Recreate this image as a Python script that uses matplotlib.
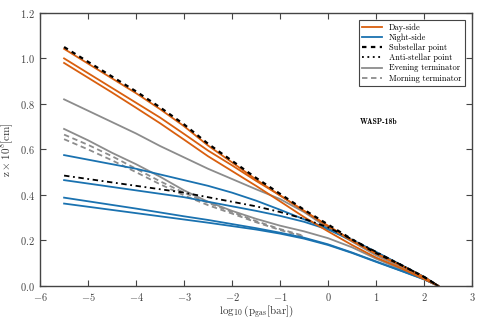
import matplotlib
matplotlib.use("Agg")
import matplotlib.pyplot as plt

plt.rcParams['mathtext.fontset'] = 'cm'
plt.rcParams['font.family'] = 'serif'
plt.rcParams['font.serif'] = ['cmr10', 'DejaVu Serif']
plt.rcParams['axes.formatter.use_mathtext'] = True
plt.rcParams['axes.unicode_minus'] = True

# log10 pressure grid for the full profiles
logp = [-5.5, -5.0, -4.5, -4.0, -3.5, -3.0, -2.5, -2.0, -1.5, -1.0, -0.5, 0.0, 0.5, 1.0, 1.5, 2.0, 2.3]
# morning terminator profiles stop early
logp_morn = [-5.5, -5.0, -4.5, -4.0, -3.5, -3.0, -2.5, -2.0, -1.5, -1.0, -0.5]

# day-side (orange)
day1 = [1.042, 0.977, 0.912, 0.847, 0.777, 0.702, 0.617, 0.543, 0.468, 0.398, 0.330, 0.265, 0.200, 0.143, 0.093, 0.039, 0.0]
day2 = [1.000, 0.935, 0.870, 0.805, 0.740, 0.668, 0.595, 0.530, 0.462, 0.398, 0.330, 0.262, 0.198, 0.142, 0.092, 0.038, 0.0]
day3 = [0.980, 0.915, 0.850, 0.783, 0.715, 0.643, 0.570, 0.505, 0.440, 0.372, 0.303, 0.240, 0.180, 0.125, 0.080, 0.030, 0.0]
# night-side (blue)
night1 = [0.575, 0.555, 0.535, 0.515, 0.490, 0.465, 0.440, 0.410, 0.375, 0.335, 0.293, 0.252, 0.203, 0.150, 0.095, 0.040, 0.0]
night2 = [0.465, 0.450, 0.435, 0.420, 0.405, 0.390, 0.370, 0.350, 0.330, 0.308, 0.282, 0.248, 0.200, 0.148, 0.094, 0.040, 0.0]
night3 = [0.388, 0.372, 0.356, 0.340, 0.323, 0.306, 0.290, 0.272, 0.254, 0.234, 0.212, 0.183, 0.147, 0.108, 0.069, 0.030, 0.0]
night4 = [0.362, 0.348, 0.334, 0.320, 0.306, 0.292, 0.278, 0.263, 0.248, 0.230, 0.208, 0.180, 0.145, 0.106, 0.068, 0.029, 0.0]
# substellar / anti-stellar points (black)
subst = [1.050, 0.985, 0.920, 0.855, 0.785, 0.710, 0.625, 0.550, 0.475, 0.405, 0.335, 0.270, 0.205, 0.145, 0.095, 0.040, 0.0]
anti = [0.485, 0.470, 0.455, 0.440, 0.425, 0.410, 0.390, 0.370, 0.350, 0.325, 0.295, 0.258, 0.205, 0.150, 0.095, 0.040, 0.0]
# evening terminator (grey solid)
even1 = [0.820, 0.770, 0.720, 0.670, 0.615, 0.565, 0.515, 0.470, 0.425, 0.382, 0.325, 0.255, 0.195, 0.135, 0.085, 0.035, 0.0]
even2 = [0.690, 0.640, 0.585, 0.535, 0.480, 0.420, 0.370, 0.330, 0.295, 0.265, 0.240, 0.210, 0.170, 0.120, 0.075, 0.030, 0.0]
# morning terminator (grey dashed)
morn1 = [0.665, 0.620, 0.570, 0.515, 0.460, 0.410, 0.365, 0.325, 0.285, 0.250, 0.220]
morn2 = [0.645, 0.600, 0.552, 0.500, 0.447, 0.398, 0.355, 0.318, 0.280, 0.246, 0.216]

orange = '#d95f0e'
blue = '#1a72b0'
grey = '#8c8c8c'

fig = plt.figure(figsize=(4.83, 3.22), dpi=100)
ax = fig.add_axes([0.083, 0.112, 0.894, 0.848])

lw = 1.3
for z in [even1, even2]:
    ax.plot(logp, z, color=grey, lw=lw)
for z in [morn1, morn2]:
    ax.plot(logp_morn, z, color=grey, lw=lw, ls=(0, (3, 2)))
for z in [night1, night2, night3, night4]:
    ax.plot(logp, z, color=blue, lw=lw)
for z in [day1, day2, day3]:
    ax.plot(logp, z, color=orange, lw=lw)
ax.plot(logp, subst, color='k', lw=lw + 0.3, ls=(0, (2, 2)))
ax.plot(logp, anti, color='k', lw=lw, ls=(0, (3, 2, 1, 2)))

# legend proxies
ax.plot([], [], color=orange, lw=lw, label='Day-side')
ax.plot([], [], color=blue, lw=lw, label='Night-side')
ax.plot([], [], color='k', lw=lw + 0.3, ls=(0, (2, 2)), label='Substellar point')
ax.plot([], [], color='k', lw=lw, ls=(0, (1, 2)), label='Anti-stellar point')
ax.plot([], [], color=grey, lw=lw, label='Evening terminator')
ax.plot([], [], color=grey, lw=lw, ls=(0, (3, 2)), label='Morning terminator')
handles, labels = ax.get_legend_handles_labels()
leg = ax.legend(handles[-6:], labels[-6:], loc='upper right', fontsize=6, frameon=True,
                fancybox=False, edgecolor='#444444', framealpha=1, borderpad=0.4,
                labelspacing=0.22, handlelength=2.4, bbox_to_anchor=(0.993, 0.99))
leg.get_frame().set_linewidth(0.8)

ax.text(0.785, 0.6, 'WASP-18b', transform=ax.transAxes, fontsize=5.5,
        family='cmb10', ha='center', va='center')

ax.set_xlim(-6, 3)
ax.set_ylim(0, 1.2)
ax.set_xticks([-6, -5, -4, -3, -2, -1, 0, 1, 2, 3])
ax.set_yticks([0.0, 0.2, 0.4, 0.6, 0.8, 1.0, 1.2])
ax.set_yticklabels(['$0.0$', '$0.2$', '$0.4$', '$0.6$', '$0.8$', '$1.0$', '$1.2$'])
ax.tick_params(direction='in', top=True, right=True, labelsize=7.5, length=4,
               width=0.8, colors='#444444', labelcolor='#444444')
for s in ax.spines.values():
    s.set_linewidth(1.0)
    s.set_color('#444444')
ax.set_xlabel(r'$\log_{10}(\mathrm{p_{gas}[bar]})$', fontsize=8, color='#333333', labelpad=0)
ax.set_ylabel(r'$\mathrm{z}\times10^{8}[\mathrm{cm}]$', fontsize=8, color='#333333', labelpad=3)

fig.savefig('out.png', dpi=100)
